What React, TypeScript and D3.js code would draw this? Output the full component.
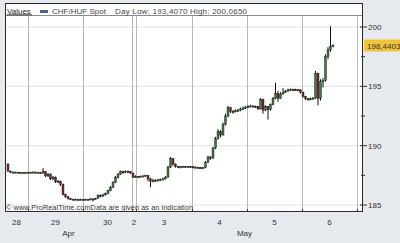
import React from "react";
import * as d3 from "d3";

const firstOpen = 188.45;
const closes = [
  187.85, 187.75, 187.78, 187.72, 187.75, 187.7, 187.74, 187.72,
  187.76, 187.74, 187.78, 187.72, 187.75, 187.7, 187.8, 187.45, 187.6, 187.2, 187.35, 186.95, 187.0, 186.75, 185.9, 185.7, 185.55, 185.5, 185.45, 185.48, 185.45, 185.47,
  185.45, 185.48, 185.46, 185.52, 185.45, 185.55, 185.8, 185.75, 185.85, 185.95, 186.2, 186.5, 186.9, 187.3, 187.6, 187.8, 187.75, 187.85, 187.8, 187.7,
  187.35, 187.4,
  187.38, 187.42, 187.45, 187.5, 187.2, 187.0, 187.1, 187.05, 187.12, 187.15, 187.2, 187.35, 188.2, 188.9, 188.45, 188.25, 188.2, 188.22, 188.25, 188.2, 188.24, 188.22,
  188.2, 188.18, 188.15, 188.12, 188.15, 188.6, 189.05, 188.95, 189.8, 190.6, 191.2, 190.9, 191.8, 192.5, 193.2, 192.9, 192.85, 192.95, 193.0, 193.1, 193.15, 193.25,
  193.3, 193.35, 193.32, 193.3, 193.1, 193.9, 193.0, 193.3, 193.05, 193.45, 194.0, 194.4, 194.0, 194.35, 194.5, 194.6, 194.7, 194.75, 194.7, 194.72, 194.7, 194.5,
  194.15, 193.95, 193.9, 193.95, 194.0, 196.1, 194.0, 195.4, 195.5, 197.5, 198.1, 198.35, 198.44,
];
const highs = [
  188.5, 187.9, 187.82, 187.8, 187.8, 187.78, 187.78, 187.76,
  187.8, 187.8, 187.82, 187.8, 187.8, 187.78, 188.1, 187.85, 187.7, 187.65, 187.45, 187.4, 187.1, 187.05, 186.8, 185.95, 185.75, 185.6, 185.52, 185.55, 185.52, 185.53,
  185.5, 185.53, 185.52, 185.57, 185.55, 185.6, 185.9, 185.9, 185.95, 186.05, 186.3, 186.6, 187.0, 187.45, 187.7, 187.9, 187.9, 187.92, 187.9, 187.85,
  187.55, 187.5,
  187.45, 187.48, 187.5, 187.55, 187.52, 187.3, 187.2, 187.15, 187.2, 187.22, 187.3, 187.45, 188.3, 189.05, 188.95, 188.5, 188.3, 188.28, 188.3, 188.28, 188.3, 188.28,
  188.26, 188.24, 188.22, 188.2, 188.2, 188.7, 189.15, 189.1, 189.9, 190.75, 191.4, 191.3, 191.95, 192.7, 193.35, 193.25, 193.0, 193.05, 193.1, 193.2, 193.3, 193.35,
  193.4, 193.45, 193.4, 193.38, 193.35, 194.0, 193.95, 193.4, 193.35, 193.55, 194.1, 195.3, 194.6, 194.5, 194.85, 194.7, 194.8, 194.82, 194.8, 194.8, 194.78, 194.75,
  194.55, 194.2, 194.0, 194.05, 194.1, 196.3, 196.15, 195.6, 195.7, 197.7, 198.3, 200.065, 198.55,
];
const lows = [
  187.8, 187.7, 187.7, 187.68, 187.7, 187.65, 187.68, 187.66,
  187.7, 187.7, 187.72, 187.68, 187.7, 187.65, 187.62, 187.35, 187.35, 187.1, 187.1, 186.85, 186.85, 186.6, 185.8, 185.6, 185.45, 185.42, 185.4, 185.42, 185.4, 185.41,
  185.4, 185.42, 185.4, 185.44, 185.3, 185.45, 185.5, 185.65, 185.7, 185.8, 185.9, 186.15, 186.45, 186.85, 187.25, 187.55, 187.65, 187.7, 187.7, 187.62,
  187.3, 187.3,
  187.3, 187.35, 187.38, 187.42, 187.0, 186.5, 186.9, 186.95, 187.0, 187.05, 187.1, 187.15, 187.3, 188.1, 188.3, 188.15, 188.12, 188.15, 188.18, 188.15, 188.18, 188.16,
  188.14, 188.12, 188.1, 188.08, 188.08, 188.1, 188.55, 188.8, 188.9, 189.7, 190.5, 190.7, 190.85, 191.7, 192.4, 192.75, 192.7, 192.8, 192.85, 192.9, 193.0, 193.1,
  193.2, 193.25, 193.25, 193.2, 193.0, 193.05, 192.7, 192.9, 192.2, 192.95, 193.4, 193.9, 193.7, 193.95, 194.3, 194.45, 194.55, 194.62, 194.6, 194.62, 194.6, 194.4,
  194.05, 193.85, 193.8, 193.85, 193.9, 193.95, 193.4, 193.8, 194.9, 195.4, 197.3, 197.9, 198.3,
];

const dayLabels = ["28", "29", "30", "2", "3", "4", "5", "6"];
const dayBounds = [8, 30, 49.6, 51.2, 73.6, 95.6, 117.6, 139.6];
const monthLabels = ["Apr", "May"];
const monthSpans = [[-1.2, 49.6], [49.6, 139.6]];
const priceTicks = [185, 190, 195, 200];
const minorTicks = [187.5, 192.5, 197.5];
const lastPrice = "198,4403";
const lastValue = 198.4403;

const W = 400, H = 243;
const L = 5, R = 363, TOP = 3, HDR = 16, BOT = 212;

export default function App() {
  const x = d3.scaleLinear().domain([-1.2, 142]).range([L, R]);
  const y = d3.scaleLinear().domain([185, 200]).range([205, 27]);
  const font = "Liberation Sans, Arial, sans-serif";
  const opens = closes.map((c, i) => (i === 0 ? firstOpen : closes[i - 1]));
  const labelStarts = [-1.2, ...dayBounds];
  const bw = 2;
  return (
    <svg width={W} height={H} style={{ position: "absolute", left: 0, top: 0 }} fontFamily={font}>
      <rect x={0} y={0} width={W} height={H} fill="#e6e9ee" />
      <rect x={L} y={TOP} width={R - L} height={BOT - TOP} fill="#ffffff" />
      {priceTicks.map((p) => (
        <line key={"h" + p} x1={L} x2={R} y1={y(p)} y2={y(p)} stroke="#e2e2e2" strokeWidth={1} />
      ))}
      {dayBounds.map((b, i) => (
        <line key={"v" + i} x1={Math.round(x(b)) + 0.5} x2={Math.round(x(b)) + 0.5} y1={HDR} y2={BOT} stroke="#b8b8b8" strokeWidth={1} />
      ))}
      {closes.map((c, i) => {
        const o = opens[i];
        const cx = x(i);
        const up = c >= o;
        const yt = y(Math.max(o, c));
        const yb = y(Math.min(o, c));
        return (
          <g key={"c" + i}>
            <line x1={cx} x2={cx} y1={y(highs[i])} y2={y(lows[i])} stroke="#111" strokeWidth={1} />
            <rect x={cx - bw / 2} y={yt} width={bw} height={Math.max(yb - yt, 1.2)} fill={up ? "#3f7a45" : "#7a2a2a"} stroke="#111" strokeWidth={0.4} />
          </g>
        );
      })}
      {/* header */}
      <line x1={L} x2={R} y1={HDR - 0.5} y2={HDR - 0.5} stroke="#8a8a8a" strokeWidth={1} />
      <text x={7} y={13.5} fontSize={8} fill="#222">Values</text>
      <line x1={7} x2={32} y1={14.8} y2={14.8} stroke="#222" strokeWidth={0.8} />
      <rect x={40} y={10} width={8} height={3} fill="#4a6490" />
      <text x={52} y={13.5} fontSize={8} fill="#444" textLength={54}>CHF/HUF Spot</text>
      <text x={115} y={13.5} fontSize={8} fill="#444" textLength={132}>Day Low: 193,4070 High: 200,0650</text>
      {/* watermark */}
      <text x={6} y={210} fontSize={7.3} fill="#333" textLength={187}>© www.ProRealTime.comData are given as an indication</text>
      {/* border */}
      <rect x={L + 0.5} y={TOP + 0.5} width={R - L - 1} height={BOT - TOP - 1} fill="none" stroke="#2a2a2a" strokeWidth={1} />
      {/* right axis */}
      {priceTicks.map((p) => (
        <g key={"pt" + p}>
          <line x1={R - 3} x2={R + 4} y1={y(p)} y2={y(p)} stroke="#333" strokeWidth={1} />
          <text x={R + 5} y={y(p) + 3} fontSize={8} fill="#333">{p}</text>
        </g>
      ))}
      {minorTicks.map((p) => (
        <line key={"mt" + p} x1={R - 2} x2={R + 2} y1={y(p)} y2={y(p)} stroke="#333" strokeWidth={1} />
      ))}
      <rect x={R + 1} y={y(lastValue) - 6} width={W - R} height={12} fill="#f0c43a" />
      <text x={R + 4} y={y(lastValue) + 3} fontSize={8} fill="#333">{lastPrice}</text>
      {/* bottom axis */}
      {dayBounds.map((b, i) => (
        <line key={"bt" + i} x1={Math.round(x(b)) + 0.5} x2={Math.round(x(b)) + 0.5} y1={BOT - 3} y2={BOT} stroke="#333" strokeWidth={1} />
      ))}
      {dayLabels.map((d, i) => (
        <text key={"dl" + i} x={x((labelStarts[i] + labelStarts[i + 1]) / 2)} y={225} fontSize={8} fill="#333" textAnchor="middle">{d}</text>
      ))}
      {monthLabels.map((m, i) => (
        <text key={"ml" + i} x={x((monthSpans[i][0] + monthSpans[i][1]) / 2)} y={236} fontSize={8} fill="#333" textAnchor="middle">{m}</text>
      ))}
    </svg>
  );
}
